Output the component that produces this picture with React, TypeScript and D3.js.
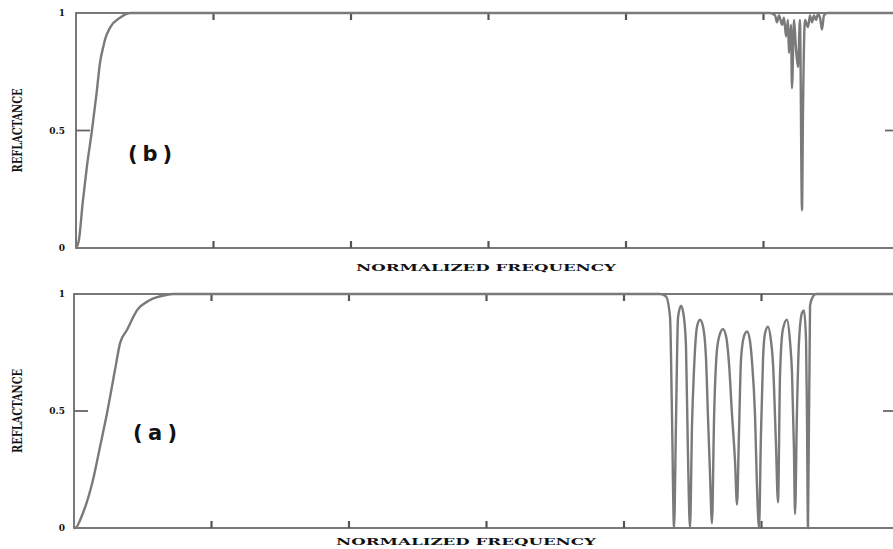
import * as d3 from "d3";
import React, { useEffect, useRef } from "react";

// panel (b) - top
const bFreq = [
  0, 0.02, 0.05, 0.08, 0.116, 0.15, 0.175, 0.2, 0.21, 0.25, 0.32, 0.4,
  5.047, 5.084, 5.098, 5.113, 5.135, 5.149, 5.164, 5.178, 5.185, 5.2, 5.207,
  5.222, 5.236, 5.251, 5.265, 5.28, 5.287, 5.302, 5.324, 5.338, 5.353, 5.367,
  5.382, 5.396, 5.411, 5.425, 5.44, 5.462, 6
];
const bRefl = [
  0, 0.03, 0.2, 0.35, 0.5, 0.66, 0.79, 0.86, 0.885, 0.94, 0.98, 1,
  1, 0.99, 0.96, 0.99, 0.95, 0.98, 0.9, 0.97, 0.83, 0.95, 0.68,
  0.97, 0.85, 0.77, 0.97, 0.16, 0.57, 0.97, 0.94, 0.99, 0.96, 0.99,
  0.97, 0.995, 0.98, 0.93, 0.99, 1, 1
];

// panel (a) - bottom
const aFreq = [
  0, 0.007, 0.065, 0.138, 0.189, 0.24, 0.298, 0.335, 0.385, 0.458, 0.553, 0.676, 0.72,
  4.262, 4.305, 4.335, 4.349, 4.364, 4.378, 4.393, 4.415, 4.436, 4.451, 4.465, 4.48,
  4.495, 4.509, 4.531, 4.553, 4.575, 4.596, 4.611, 4.625, 4.64, 4.655, 4.676, 4.698,
  4.72, 4.742, 4.764, 4.785, 4.807, 4.822, 4.836, 4.851, 4.873, 4.895, 4.916, 4.931,
  4.953, 4.967, 4.982, 4.996, 5.011, 5.025, 5.047, 5.069, 5.084, 5.105, 5.12, 5.135,
  5.156, 5.185, 5.207, 5.222, 5.236, 5.244, 5.258, 5.273, 5.295, 5.309, 5.324, 5.331,
  5.338, 5.353, 5.375, 5.396, 6
];
const aRefl = [
  0, 0, 0.064, 0.205, 0.346, 0.49, 0.675, 0.79, 0.846, 0.93, 0.974, 0.996, 1,
  1, 0.99, 0.9, 0.48, 0, 0.45, 0.9, 0.95, 0.9, 0.77, 0.32, 0,
  0.45, 0.675, 0.86, 0.89, 0.86, 0.73, 0.47, 0.24, 0.02, 0.47, 0.76, 0.83,
  0.85, 0.82, 0.7, 0.49, 0.29, 0.1, 0.4, 0.72, 0.82, 0.84, 0.8, 0.71,
  0.48, 0.18, 0, 0.4, 0.72, 0.83, 0.86, 0.8, 0.7, 0.36, 0.11, 0.66,
  0.85, 0.89, 0.8, 0.66, 0.34, 0.06, 0.5, 0.8, 0.92, 0.93, 0.8, 0.46,
  0, 0.95, 0.99, 1, 1
];

const xTicks = [1, 2, 3, 4, 5];
const yTicks = [0, 0.5, 1];
const yTickLabels = ["0", "0.5", "1"];

const panels = [
  { freq: bFreq, refl: bRefl, left: 76, top: 13, bottom: 248, tag: "(b)", tagX: 150, tagY: 161, titleX: 486, titleY: 271 },
  { freq: aFreq, refl: aRefl, left: 74, top: 294, bottom: 528, tag: "(a)", tagX: 155, tagY: 440, titleX: 466, titleY: 545 }
];

function App() {
  const ref = useRef<SVGSVGElement>(null);

  useEffect(() => {
    const svg = d3.select(ref.current);
    svg.selectAll("*").remove();

    panels.forEach((p) => {
      const x = d3.scaleLinear().domain([0, 6]).range([p.left, p.left + 825]);
      const y = d3.scaleLinear().domain([0, 1]).range([p.bottom, p.top]);
      const g = svg.append("g");

      // frame
      g.append("rect")
        .attr("x", x(0))
        .attr("y", y(1))
        .attr("width", x(6) - x(0))
        .attr("height", y(0) - y(1))
        .attr("fill", "none")
        .attr("stroke", "#6a6a6a")
        .attr("stroke-width", 1.8);

      // x ticks, inward on bottom and top
      xTicks.forEach((t) => {
        g.append("line").attr("x1", x(t)).attr("x2", x(t))
          .attr("y1", y(0)).attr("y2", y(0) - 7)
          .attr("stroke", "#555").attr("stroke-width", 2.2);
        g.append("line").attr("x1", x(t)).attr("x2", x(t))
          .attr("y1", y(1)).attr("y2", y(1) + 7)
          .attr("stroke", "#555").attr("stroke-width", 2.2);
      });

      // y ticks
      yTicks.forEach((t, i) => {
        if (t > 0 && t < 1) {
          g.append("line").attr("x1", x(0)).attr("x2", x(0) + 14)
            .attr("y1", y(t)).attr("y2", y(t))
            .attr("stroke", "#666").attr("stroke-width", 1.8);
          g.append("line").attr("x1", x(6)).attr("x2", x(6) - 16)
            .attr("y1", y(t)).attr("y2", y(t))
            .attr("stroke", "#666").attr("stroke-width", 1.8);
        }
        g.append("text")
          .attr("x", 65)
          .attr("y", y(t) + 3)
          .attr("text-anchor", "end")
          .attr("font-family", "DejaVu Serif")
          .attr("font-weight", "bold")
          .attr("font-size", 9)
          .attr("fill", "#111")
          .text(yTickLabels[i]);
      });

      // curve
      const line = d3.line<number>()
        .x((d) => x(d))
        .y((_, i) => y(p.refl[i]))
        .curve(d3.curveMonotoneX);
      g.append("path")
        .attr("d", line(p.freq))
        .attr("fill", "none")
        .attr("stroke", "#7a7a7a")
        .attr("stroke-width", 2.4);

      // y label
      const yMid = y(0.5);
      g.append("text")
        .attr("transform", `translate(22,${yMid}) rotate(-90)`)
        .attr("text-anchor", "middle")
        .attr("font-family", "DejaVu Serif")
        .attr("font-weight", "bold")
        .attr("font-size", 12)
        .attr("textLength", 84)
        .attr("lengthAdjust", "spacingAndGlyphs")
        .attr("fill", "#111")
        .text("REFLACTANCE");

      // x label
      g.append("text")
        .attr("x", p.titleX)
        .attr("y", p.titleY)
        .attr("text-anchor", "middle")
        .attr("font-family", "DejaVu Serif")
        .attr("font-weight", "bold")
        .attr("font-size", 10)
        .attr("textLength", 260)
        .attr("lengthAdjust", "spacingAndGlyphs")
        .attr("fill", "#111")
        .text("NORMALIZED FREQUENCY");

      // panel tag
      g.append("text")
        .attr("x", p.tagX)
        .attr("y", p.tagY)
        .attr("text-anchor", "middle")
        .attr("font-family", "DejaVu Sans")
        .attr("font-weight", "bold")
        .attr("font-size", 21)
        .attr("textLength", 44)
        .attr("fill", "#111")
        .text(p.tag);
    });
  }, []);

  return (
    <svg
      ref={ref}
      width={893}
      height={549}
      style={{ position: "absolute", left: 0, top: 0, background: "#fff" }}
    />
  );
}

export default App;
